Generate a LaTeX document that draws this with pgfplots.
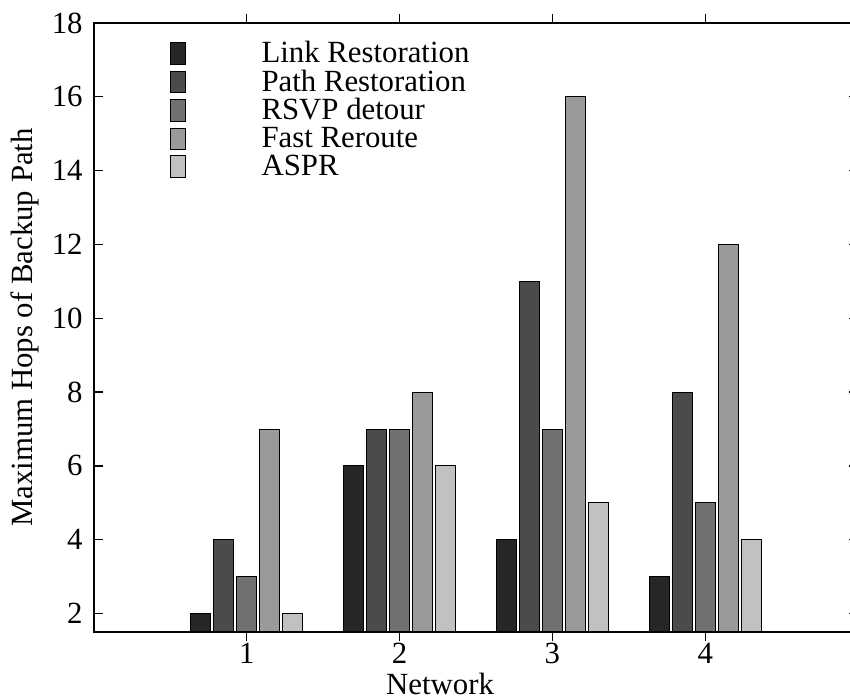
\documentclass[border=0pt]{standalone}
\usepackage{pgfplots}
\pgfplotsset{compat=1.18}
\usepackage{fontspec}
\setmainfont{Liberation Serif}
\definecolor{c1}{HTML}{262626}
\definecolor{c2}{HTML}{4B4B4B}
\definecolor{c3}{HTML}{717171}
\definecolor{c4}{HTML}{9A9A9A}
\definecolor{c5}{HTML}{C1C1C1}
\pgfplotsset{
  boxleg/.style={legend image code/.code={%
    \draw[##1] (0pt,-5.4pt) rectangle (7.5pt,5.4pt);
    \path[draw=none,fill=none] (0pt,0pt) -- (45.5pt,0pt);}}
}
\begin{document}
\begin{tikzpicture}
\begin{axis}[
  scale only axis, width=382pt, height=304.5pt,
  xmin=0, xmax=5, ymin=1.5, ymax=18,
  xtick={1,2,3,4}, ytick={2,4,...,18},
  tick align=inside, major tick length=4.5pt,
  axis on top,
  axis line style={line width=0.6pt, black},
  tick style={line width=0.6pt, black},
  font=\fontsize{15.4}{18}\selectfont,
  /pgf/number format/assume math mode=true,
  ticklabel style={inner sep=0pt, font=\fontsize{15.4}{18}\selectfont},
  yticklabel style={xshift=-5.5pt},
  xticklabel style={yshift=-1pt},
  xlabel={Network},
  ylabel={Maximum Hops of Backup Path},
  xlabel style={at={([yshift=-31pt]axis description cs:0.453,0)}, anchor=base, inner sep=0pt},
  ylabel style={at={([xshift=-30.5pt]axis description cs:0,0.5)}, anchor=base, inner sep=0pt},
  ybar, bar width=10pt,
  legend style={at={(axis description cs:0.0995,0.9704)}, anchor=north west,
    draw=none, fill=none, inner sep=0pt, outer sep=0pt,
    row sep=2.2pt, column sep=0pt, nodes={inner sep=0pt},
    cells={anchor=west}, font=\fontsize{15.4}{18}\selectfont},
]
\addplot[fill=c1, draw=black, line width=0.5pt, bar shift=-23pt, boxleg] coordinates {(1,2) (2,6) (3,4) (4,3)};
\addlegendentry{Link Restoration}
\addplot[fill=c2, draw=black, line width=0.5pt, bar shift=-11.5pt, boxleg] coordinates {(1,4) (2,7) (3,11) (4,8)};
\addlegendentry{Path Restoration}
\addplot[fill=c3, draw=black, line width=0.5pt, bar shift=0pt, boxleg] coordinates {(1,3) (2,7) (3,7) (4,5)};
\addlegendentry{RSVP detour}
\addplot[fill=c4, draw=black, line width=0.5pt, bar shift=11.5pt, boxleg] coordinates {(1,7) (2,8) (3,16) (4,12)};
\addlegendentry{Fast Reroute}
\addplot[fill=c5, draw=black, line width=0.5pt, bar shift=23pt, boxleg] coordinates {(1,2) (2,6) (3,5) (4,4)};
\addlegendentry{ASPR}
\end{axis}
\pgfresetboundingbox
\useasboundingbox (-47pt,-32.5pt) rectangle (378pt,316pt);
\end{tikzpicture}
\end{document}
